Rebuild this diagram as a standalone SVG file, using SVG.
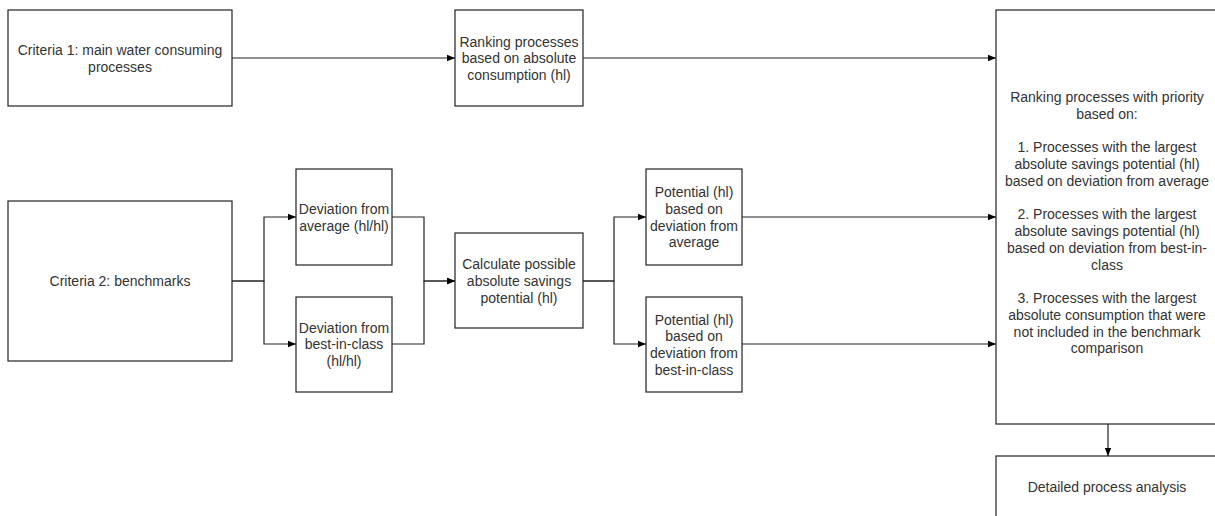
<svg xmlns="http://www.w3.org/2000/svg" width="1215" height="516" viewBox="0 0 1215 516">
<style>
.box{fill:#fff;stroke:#222;stroke-width:1.2}
.lbl{font-family:"Liberation Sans",Arial,sans-serif;font-size:14px;fill:#333;text-anchor:middle}
.edge{fill:none;stroke:#222;stroke-width:1.2}
</style>
<defs>
<marker id="arr" viewBox="0 0 8 8" refX="8" refY="4" markerWidth="8" markerHeight="8" markerUnits="userSpaceOnUse" orient="auto">
<path d="M0,0.8 L8,4 L0,7.2 Z" fill="#000"/>
</marker>
</defs>
<rect width="1215" height="516" fill="#fff"/>
<g id="connectors">
<path class="edge" d="M232,58 H455" marker-end="url(#arr)"/>
<path class="edge" d="M583,58 H996" marker-end="url(#arr)"/>
<path class="edge" d="M232,281 H264 V217 H296" marker-end="url(#arr)"/>
<path class="edge" d="M232,281 H264 V344 H296" marker-end="url(#arr)"/>
<path class="edge" d="M392,217 H424 V281 H455" marker-end="url(#arr)"/>
<path class="edge" d="M392,344 H424 V281 H455" marker-end="url(#arr)"/>
<path class="edge" d="M583,281 H614 V217 H646" marker-end="url(#arr)"/>
<path class="edge" d="M583,281 H614 V344 H646" marker-end="url(#arr)"/>
<path class="edge" d="M742,217 H996" marker-end="url(#arr)"/>
<path class="edge" d="M742,344 H996" marker-end="url(#arr)"/>
<path class="edge" d="M1108,424 V456" marker-end="url(#arr)"/>
</g>
<g id="criteria1">
<rect class="box" x="8" y="10" width="224" height="96"/>
<text class="lbl" x="120" y="55"><tspan x="120">Criteria 1: main water consuming</tspan><tspan x="120" dy="16.8">processes</tspan></text>
</g>
<g id="ranking">
<rect class="box" x="455" y="10" width="128" height="96"/>
<text class="lbl" x="519" y="46.5"><tspan x="519">Ranking processes</tspan><tspan x="519" dy="16.8">based on absolute</tspan><tspan x="519" dy="16.8">consumption (hl)</tspan></text>
</g>
<g id="criteria2">
<rect class="box" x="8" y="201" width="224" height="160"/>
<text class="lbl" x="120" y="286">Criteria 2: benchmarks</text>
</g>
<g id="devAverage">
<rect class="box" x="296" y="169" width="96" height="96"/>
<text class="lbl" x="344" y="214"><tspan x="344">Deviation from</tspan><tspan x="344" dy="16.8">average (hl/hl)</tspan></text>
</g>
<g id="devBest">
<rect class="box" x="296" y="297" width="96" height="95"/>
<text class="lbl" x="344" y="332.5"><tspan x="344">Deviation from</tspan><tspan x="344" dy="16.8">best-in-class</tspan><tspan x="344" dy="16.8">(hl/hl)</tspan></text>
</g>
<g id="calculate">
<rect class="box" x="455" y="233" width="128" height="95"/>
<text class="lbl" x="519" y="269"><tspan x="519">Calculate possible</tspan><tspan x="519" dy="16.8">absolute savings</tspan><tspan x="519" dy="16.8">potential (hl)</tspan></text>
</g>
<g id="potAverage">
<rect class="box" x="646" y="169" width="96" height="96"/>
<text class="lbl" x="694" y="197"><tspan x="694">Potential (hl)</tspan><tspan x="694" dy="16.8">based on</tspan><tspan x="694" dy="16.8">deviation from</tspan><tspan x="694" dy="16.8">average</tspan></text>
</g>
<g id="potBest">
<rect class="box" x="646" y="297" width="96" height="95"/>
<text class="lbl" x="694" y="324.5"><tspan x="694">Potential (hl)</tspan><tspan x="694" dy="16.8">based on</tspan><tspan x="694" dy="16.8">deviation from</tspan><tspan x="694" dy="16.8">best-in-class</tspan></text>
</g>
<g id="priority">
<rect class="box" x="996" y="10" width="222" height="414"/>
<text class="lbl" x="1107" y="102.3"><tspan x="1107">Ranking processes with priority</tspan><tspan x="1107" dy="16.73">based on:</tspan><tspan x="1107" dy="33.46">1. Processes with the largest</tspan><tspan x="1107" dy="16.73">absolute savings potential (hl)</tspan><tspan x="1107" dy="16.73">based on deviation from average</tspan><tspan x="1107" dy="33.46">2. Processes with the largest</tspan><tspan x="1107" dy="16.73">absolute savings potential (hl)</tspan><tspan x="1107" dy="16.73">based on deviation from best-in-</tspan><tspan x="1107" dy="16.73">class</tspan><tspan x="1107" dy="33.46">3. Processes with the largest</tspan><tspan x="1107" dy="16.73">absolute consumption that were</tspan><tspan x="1107" dy="16.73">not included in the benchmark</tspan><tspan x="1107" dy="16.73">comparison</tspan></text>
</g>
<g id="detailed">
<rect class="box" x="996" y="456" width="222" height="63"/>
<text class="lbl" x="1107" y="492.3">Detailed process analysis</text>
</g>
</svg>
